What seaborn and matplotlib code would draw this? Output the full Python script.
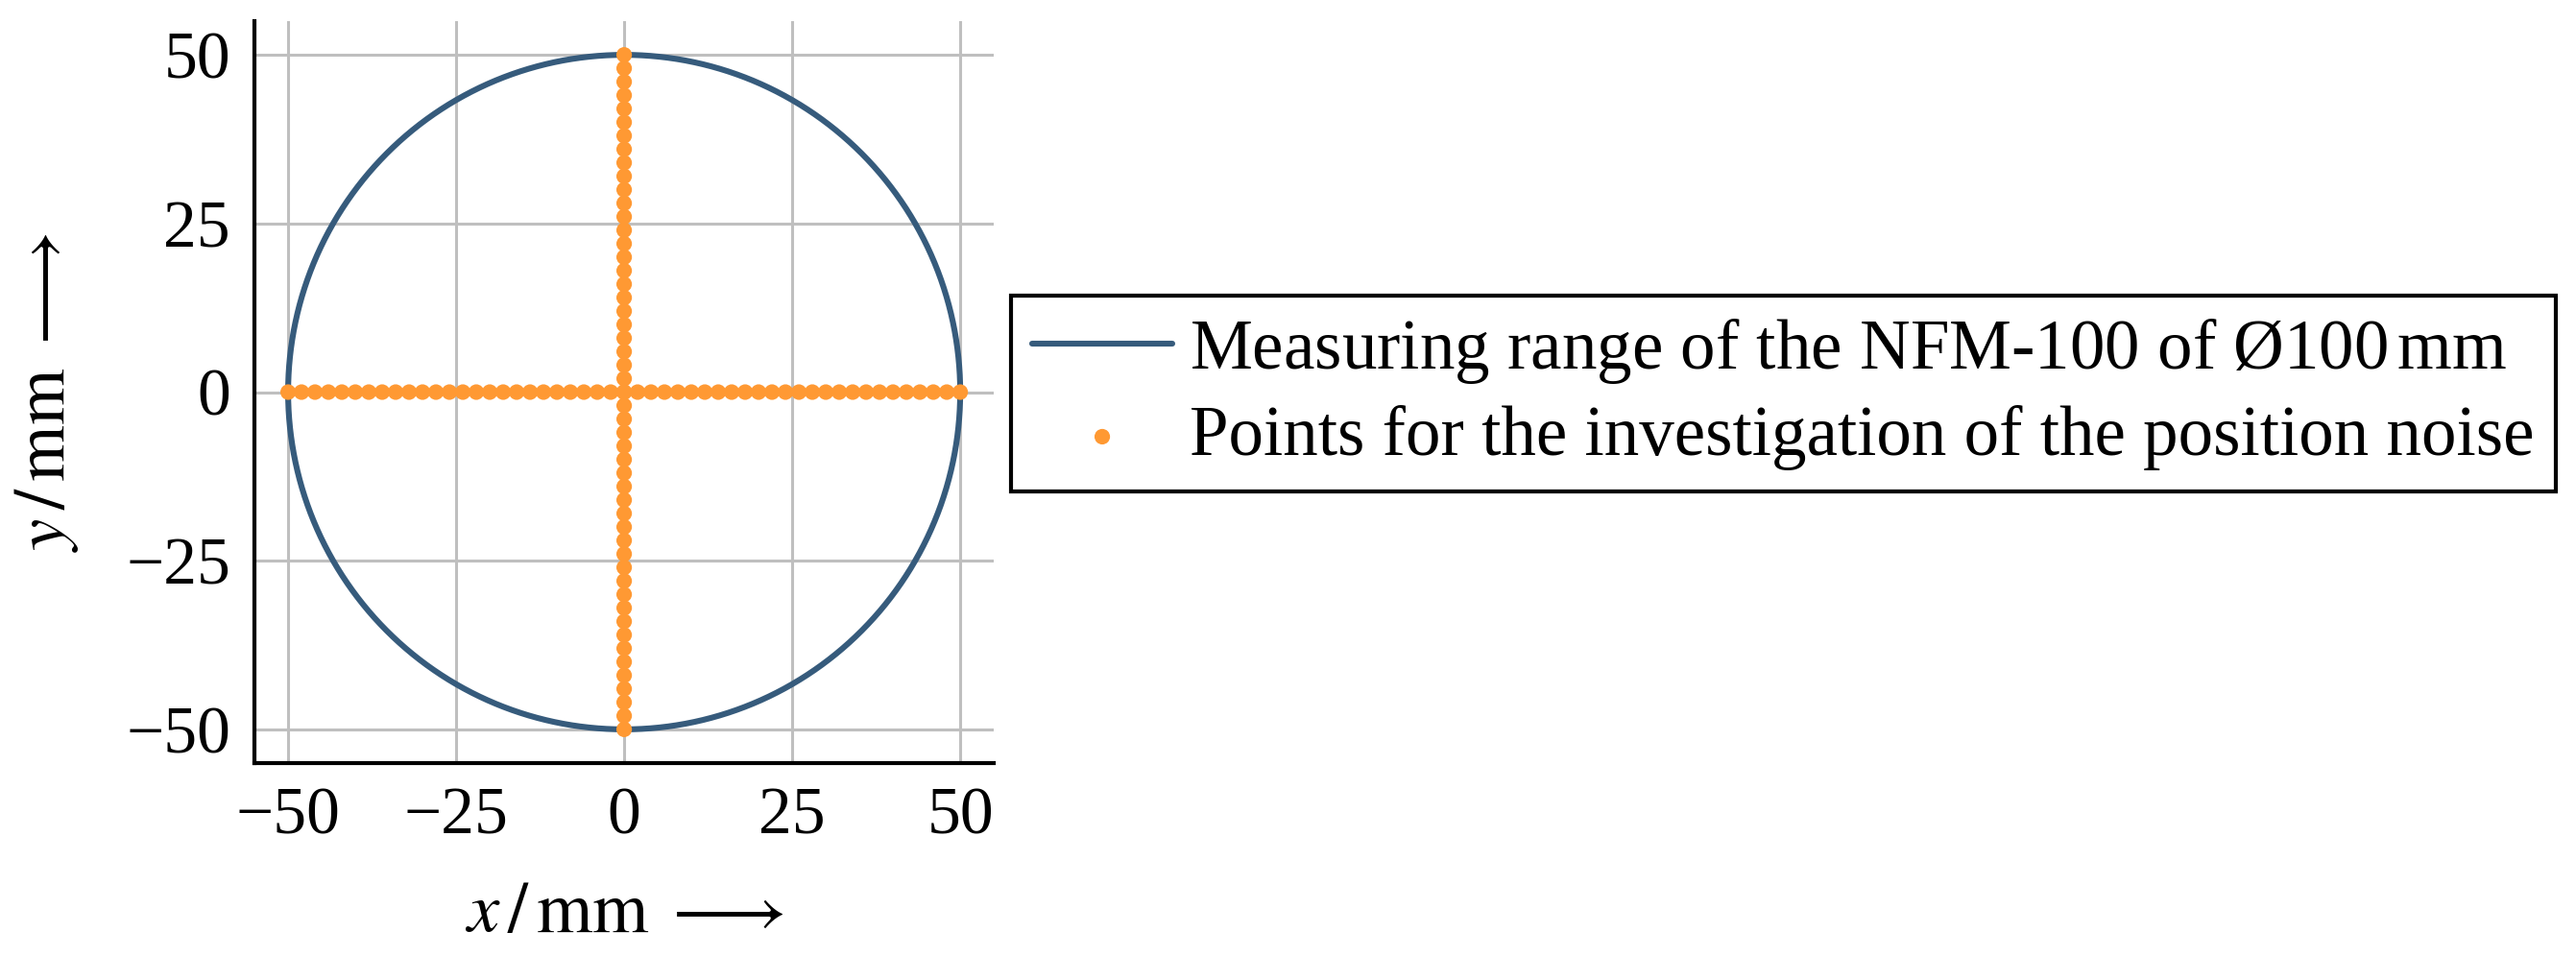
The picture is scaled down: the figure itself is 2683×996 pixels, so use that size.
import numpy as np
import pandas as pd
import seaborn as sns
import matplotlib.pyplot as plt

# === Data ===
# measuring range of the NFM-100 (diameter in mm)
range_diameter_mm = 100

# positions used for the position-noise investigation (2 mm steps along each axis)
noise_positions_mm = [-50, -48, -46, -44, -42, -40, -38, -36, -34, -32,
                      -30, -28, -26, -24, -22, -20, -18, -16, -14, -12,
                      -10, -8, -6, -4, -2, 0, 2, 4, 6, 8, 10, 12, 14, 16,
                      18, 20, 22, 24, 26, 28, 30, 32, 34, 36, 38, 40, 42,
                      44, 46, 48, 50]

tick_values = [-50, -25, 0, 25, 50]
axis_limits = (-55, 55)

label_range = r"Measuring range of the NFM-100 of Ø100$\,$mm"
label_points = "Points for the investigation of the position noise"

col_range = "#365b7c"
col_points = "#ff9933"

# === Build frames ===
phi = np.linspace(0, 2 * np.pi, 721)
r = range_diameter_mm / 2
df_circle = pd.DataFrame({"x": r * np.cos(phi), "y": r * np.sin(phi)})

n = len(noise_positions_mm)
df_points = pd.DataFrame({
    "x": list(noise_positions_mm) + [0] * n,
    "y": [0] * n + list(noise_positions_mm),
})

# === Style ===
sns.set_style("whitegrid")
plt.rcParams["font.family"] = ["Liberation Serif", "DejaVu Serif"]
plt.rcParams["mathtext.fontset"] = "stix"
plt.rcParams["font.size"] = 24.5
plt.rcParams["text.color"] = "black"
plt.rcParams["axes.labelcolor"] = "black"

fig = plt.figure(figsize=(13.415, 4.98), dpi=200)
ax = fig.add_axes([0.0988, 0.2018, 0.2870, 0.7761])

sns.lineplot(data=df_circle, x="x", y="y", sort=False, estimator=None,
             color=col_range, linewidth=2.2, label=label_range, ax=ax, zorder=3)
sns.scatterplot(data=df_points, x="x", y="y", color=col_points, s=34,
                edgecolor="none", linewidth=0, label=label_points, ax=ax, zorder=4)

ax.set_xlim(*axis_limits)
ax.set_ylim(*axis_limits)
ax.set_xticks(tick_values)
ax.set_yticks(tick_values)

ax.grid(True, color="#bfbfbf", linewidth=1.1)
ax.set_axisbelow(True)
for side in ["top", "right"]:
    ax.spines[side].set_visible(False)
for side in ["left", "bottom"]:
    ax.spines[side].set_color("black")
    ax.spines[side].set_linewidth(1.5)
ax.tick_params(direction="in", length=4.3, width=1.1, color="#808080",
               labelsize=25, labelcolor="black")
ax.tick_params(axis="y", pad=9)
ax.tick_params(axis="x", pad=9)

ax.set_xlabel(r"$x\,/\,\mathrm{mm}\;\longrightarrow$", fontsize=27, labelpad=13,
              color="black")
ax.set_ylabel(r"$y\,/\,\mathrm{mm}\;\longrightarrow$", fontsize=27, labelpad=17,
              color="black")

handles, labels = ax.get_legend_handles_labels()
ax.legend(handles, labels, loc="upper left", bbox_to_anchor=(0.3925, 0.691),
          bbox_transform=fig.transFigure, frameon=True, fancybox=False,
          edgecolor="black", framealpha=1, borderaxespad=0, fontsize=26.3,
          handlelength=2.0, handletextpad=0.25, labelspacing=0.28,
          borderpad=0.3, markerscale=1.0, labelcolor="black")
leg = ax.get_legend()
leg.get_frame().set_linewidth(1.5)

fig.savefig("out.png", dpi=200)
